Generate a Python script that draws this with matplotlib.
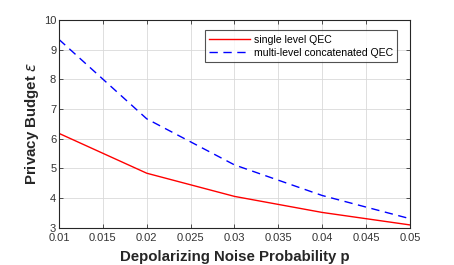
import matplotlib
matplotlib.use("Agg")
import matplotlib.pyplot as plt

p = [0.01, 0.02, 0.03, 0.04, 0.05]
single = [6.18, 4.84, 4.06, 3.52, 3.10]
multi = [9.34, 6.67, 5.12, 4.09, 3.31]
xticks = [0.01, 0.015, 0.02, 0.025, 0.03, 0.035, 0.04, 0.045, 0.05]
xticklabels = ["0.01", "0.015", "0.02", "0.025", "0.03", "0.035", "0.04", "0.045", "0.05"]
yticks = [3, 4, 5, 6, 7, 8, 9, 10]

plt.rcParams['font.family'] = ['Liberation Sans', 'DejaVu Sans']
plt.rcParams['mathtext.fontset'] = 'dejavusans'

fig = plt.figure(figsize=(4.54, 2.65), dpi=100)
ax = fig.add_axes([0.130, 0.140, 0.773, 0.785])
ax.plot(p, single, color='red', lw=1.0, label='single level QEC')
ax.plot(p, multi, color='blue', lw=1.0, ls=(0, (6, 4)), label='multi-level concatenated QEC')
ax.set_xlim(0.01, 0.05)
ax.set_ylim(3, 10)
ax.set_xticks(xticks)
ax.set_xticklabels(xticklabels)
ax.set_yticks(yticks)
ax.tick_params(direction='in', labelsize=8, colors='#333333', length=3, width=0.6, top=True, right=True)
ax.tick_params(axis='x', pad=4)
ax.tick_params(axis='y', pad=2)
ax.grid(True, color='#d9d9d9', lw=0.6)
ax.set_axisbelow(True)
for s in ax.spines.values():
    s.set_color('#262626')
    s.set_linewidth(0.8)
ax.set_xlabel('Depolarizing Noise Probability p', fontsize=10.8, fontweight='bold', color='#262626', labelpad=5)
ax.set_ylabel(r'Privacy Budget $\epsilon$', fontsize=10.8, fontweight='bold', color='#262626', labelpad=2)
leg = ax.legend(loc='upper right', bbox_to_anchor=(0.972, 0.965), fontsize=7.6, frameon=True, fancybox=False,
                edgecolor='#262626', handlelength=3.9, handletextpad=0.3, borderpad=0.4, labelspacing=0.3, borderaxespad=0.3)
leg.get_frame().set_linewidth(0.8)
fig.savefig('out.png', dpi=100)
